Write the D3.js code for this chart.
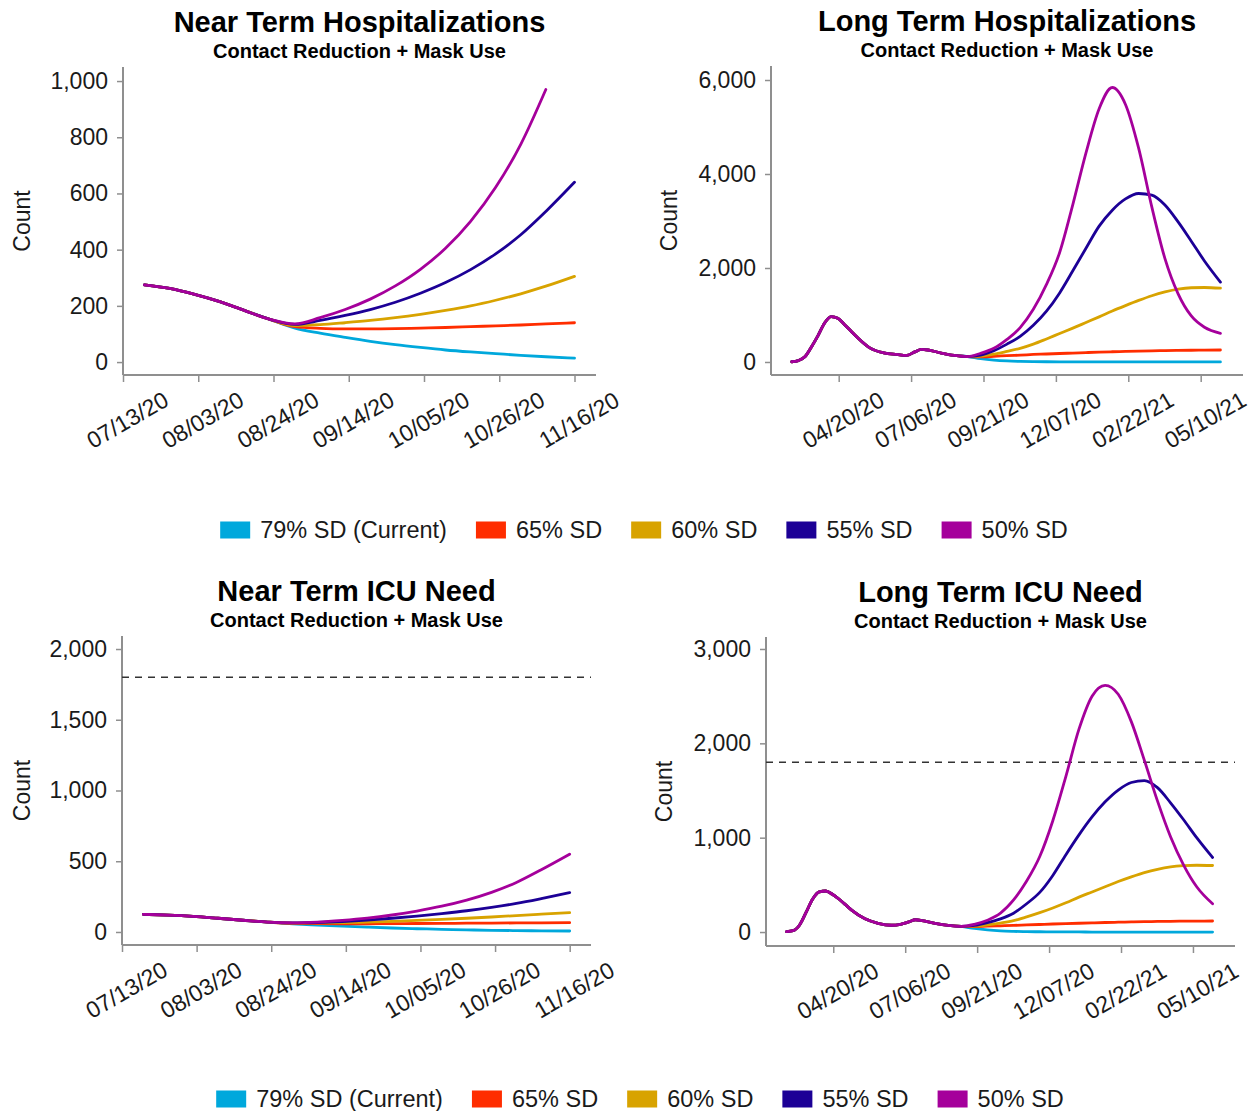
<!DOCTYPE html>
<html>
<head>
<meta charset="utf-8">
<script src="https://cdn.jsdelivr.net/npm/d3@7"></script>
<style>
  body { margin: 0; background: #fff; }
  svg { display: block; }
  text { font-family: "Liberation Sans", Arial, Helvetica, sans-serif; fill: #1a1a1a; }
</style>
</head>
<body>
<svg id="chart" width="1254" height="1111"></svg>
<script>
// ---------- scenario series ----------
const seriesNames  = ["79% SD (Current)", "65% SD", "60% SD", "55% SD", "50% SD"];
const seriesColors = ["#00a8dc", "#ff2d00", "#d8a300", "#1c0096", "#a5009b"];

// ---------- near term (07/2020 – 11/2020) ----------
const nearTickDates = ["2020-07-13", "2020-08-03", "2020-08-24", "2020-09-14", "2020-10-05", "2020-10-26", "2020-11-16"];
const nearHistDates = ["2020-07-19", "2020-07-26", "2020-08-02", "2020-08-09", "2020-08-16", "2020-08-23"];
const nearProjDates = ["2020-08-30", "2020-09-06", "2020-09-13", "2020-09-20", "2020-09-27", "2020-10-04",
                       "2020-10-11", "2020-10-18", "2020-10-25", "2020-11-01", "2020-11-08", "2020-11-16"];

// hospitalizations
const nearHospHist = [275, 262, 241, 215, 183, 152];
const nearHosp79 = [121, 103, 88, 74, 62, 52, 43, 36, 30, 24, 19, 14];
const nearHosp65 = [126, 120, 118, 118, 119, 121, 123, 126, 129, 132, 136, 140];
const nearHosp60 = [130, 133, 140, 148, 158, 170, 184, 200, 220, 243, 270, 305];
const nearHosp55 = [134, 148, 166, 187, 213, 245, 283, 329, 385, 453, 536, 640];
const nearHosp50 = [136, 158, 187, 224, 271, 330, 405, 501, 622, 775, 970, null];

// ICU need
const nearIcuHist = [125, 119, 110, 97, 83, 70];
const nearIcu79 = [58, 49, 41, 34, 28, 23, 19, 15, 12, 10, 8, 7];
const nearIcu65 = [61, 59, 58, 58, 59, 60, 61, 62, 63, 64, 65, 66];
const nearIcu60 = [63, 64, 66, 70, 75, 82, 89, 97, 106, 116, 126, 137];
const nearIcu55 = [64, 67, 74, 84, 97, 112, 130, 150, 174, 202, 236, 278];
const nearIcu50 = [65, 70, 82, 98, 120, 148, 182, 225, 280, 350, 440, 550];

// ---------- long term (03/2020 – 05/2021) ----------
const longTickDates = ["2020-04-20", "2020-07-06", "2020-09-21", "2020-12-07", "2021-02-22", "2021-05-10"];
const longHistDates = ["2020-03-01", "2020-03-08", "2020-03-15", "2020-03-22", "2020-03-29", "2020-04-05",
                       "2020-04-12", "2020-04-19", "2020-04-26", "2020-05-03", "2020-05-10", "2020-05-24",
                       "2020-06-07", "2020-06-21", "2020-07-01", "2020-07-10", "2020-07-17", "2020-07-24",
                       "2020-08-07", "2020-08-21", "2020-09-04"];
const longProjDates = ["2020-09-18", "2020-10-02", "2020-10-16", "2020-10-30", "2020-11-13", "2020-11-27",
                       "2020-12-11", "2020-12-25", "2021-01-08", "2021-01-22", "2021-02-05", "2021-02-19",
                       "2021-03-05", "2021-03-19", "2021-04-02", "2021-04-16", "2021-04-30", "2021-05-14",
                       "2021-05-31"];

// hospitalizations
const longHospHist = [5, 30, 110, 320, 560, 830, 965, 930, 800, 660, 520, 290, 195, 160, 140, 215, 268, 255, 190, 140, 115];
const longHosp79 = [70, 40, 22, 12, 7, 5, 3, 2, 2, 1, 1, 1, 1, 1, 1, 1, 1, 1, 1];
const longHosp65 = [110, 120, 135, 145, 160, 170, 180, 190, 200, 210, 218, 225, 232, 238, 243, 247, 250, 253, 255];
const longHosp60 = [125, 165, 225, 290, 380, 490, 605, 720, 840, 960, 1085, 1200, 1310, 1410, 1490, 1550, 1580, 1585, 1570];
const longHosp55 = [145, 240, 380, 545, 780, 1080, 1470, 1940, 2420, 2890, 3230, 3470, 3585, 3550, 3340, 2980, 2570, 2150, 1700];
const longHosp50 = [185, 290, 480, 730, 1120, 1650, 2330, 3350, 4450, 5390, 5840, 5480, 4550, 3300, 2200, 1450, 980, 740, 610];

// ICU need
const longIcuHist = [5, 15, 75, 210, 350, 425, 435, 400, 350, 290, 230, 140, 92, 72, 82, 108, 130, 122, 92, 70, 60];
const longIcu79 = [38, 22, 12, 7, 4, 3, 2, 1, 1, 0, 0, 0, 0, 0, 0, 0, 0, 0, 0];
const longIcu65 = [58, 62, 66, 70, 75, 80, 85, 89, 93, 97, 101, 104, 107, 110, 112, 114, 115, 116, 117];
const longIcu60 = [62, 75, 95, 120, 160, 205, 255, 310, 370, 425, 480, 535, 585, 630, 665, 690, 703, 708, 705];
const longIcu55 = [70, 100, 140, 200, 300, 420, 600, 820, 1030, 1220, 1380, 1505, 1585, 1605, 1530, 1370, 1190, 1000, 790];
const longIcu50 = [82, 125, 200, 340, 540, 800, 1180, 1650, 2150, 2500, 2615, 2520, 2230, 1820, 1390, 1010, 710, 480, 300];

// y tick values and ICU capacity
const nearHospTicks = [0, 200, 400, 600, 800, 1000];
const longHospTicks = [0, 2000, 4000, 6000];
const nearIcuTicks  = [0, 500, 1000, 1500, 2000];
const longIcuTicks  = [0, 1000, 2000, 3000];
const icuCapacity = 1800;

const subtitle = "Contact Reduction + Mask Use";

// ---------- drawing ----------
const parse = d3.timeParse("%Y-%m-%d");
const fmtDate = d3.timeFormat("%m/%d/%y");
const svg = d3.select("#chart");

const panels = [
  { title: "Near Term Hospitalizations", left: 123, right: 596, top: 67, bottom: 375,
    xDomain: ["2020-07-13", "2020-11-22"], yDomain: [-46, 1050], yTicks: nearHospTicks,
    xTicks: nearTickDates, histDates: nearHistDates, hist: nearHospHist, projDates: nearProjDates,
    proj: [nearHosp79, nearHosp65, nearHosp60, nearHosp55, nearHosp50], capacity: null, labelX: 22 },
  { title: "Long Term Hospitalizations", left: 771, right: 1243, top: 66, bottom: 375,
    xDomain: ["2020-02-08", "2021-06-24"], yDomain: [-277, 6298], yTicks: longHospTicks,
    xTicks: longTickDates, histDates: longHistDates, hist: longHospHist, projDates: longProjDates,
    proj: [longHosp79, longHosp65, longHosp60, longHosp55, longHosp50], capacity: null, labelX: 669 },
  { title: "Near Term ICU Need", left: 122, right: 591, top: 636, bottom: 945,
    xDomain: ["2020-07-13", "2020-11-22"], yDomain: [-92, 2092], yTicks: nearIcuTicks,
    xTicks: nearTickDates, histDates: nearHistDates, hist: nearIcuHist, projDates: nearProjDates,
    proj: [nearIcu79, nearIcu65, nearIcu60, nearIcu55, nearIcu50], capacity: icuCapacity, labelX: 22 },
  { title: "Long Term ICU Need", left: 766, right: 1235, top: 637, bottom: 946,
    xDomain: ["2020-02-08", "2021-06-24"], yDomain: [-148, 3127], yTicks: longIcuTicks,
    xTicks: longTickDates, histDates: longHistDates, hist: longIcuHist, projDates: longProjDates,
    proj: [longIcu79, longIcu65, longIcu60, longIcu55, longIcu50], capacity: icuCapacity, labelX: 664 }
];

panels.forEach(p => {
  const g = svg.append("g");
  const x = d3.scaleTime().domain(p.xDomain.map(parse)).range([p.left, p.right]);
  const y = d3.scaleLinear().domain(p.yDomain).range([p.bottom, p.top]);
  const cx = (p.left + p.right) / 2;

  // titles
  g.append("text").attr("x", cx).attr("y", p.top - 35).attr("text-anchor", "middle")
    .style("font-size", "29px").style("font-weight", "bold").style("fill", "#000").text(p.title);
  g.append("text").attr("x", cx).attr("y", p.top - 9).attr("text-anchor", "middle")
    .style("font-size", "20px").style("font-weight", "bold").style("fill", "#000").text(subtitle);

  // y axis
  const yAxis = g.append("g").attr("transform", `translate(${p.left},0)`)
    .call(d3.axisLeft(y).tickValues(p.yTicks).tickFormat(d3.format(",")).tickSize(6).tickPadding(9));
  yAxis.select(".domain").attr("d", `M0,${p.top}V${p.bottom}`);
  yAxis.selectAll("text").style("font-size", "23px").style("fill", "#1a1a1a");

  // x axis
  const xAxis = g.append("g").attr("transform", `translate(0,${p.bottom})`)
    .call(d3.axisBottom(x).tickValues(p.xTicks.map(parse)).tickFormat(fmtDate).tickSize(7));
  xAxis.select(".domain").attr("d", `M${p.left},0H${p.right}`);
  xAxis.selectAll("text")
    .attr("x", 0).attr("y", 0).attr("dy", null)
    .attr("dominant-baseline", "central")
    .style("text-anchor", "middle").style("font-size", "23px").style("fill", "#1a1a1a")
    .attr("transform", "translate(4,45) rotate(-30)");

  [yAxis, xAxis].forEach(a => {
    a.select(".domain").attr("stroke", "#8f8f8f").attr("stroke-width", 2);
    a.selectAll(".tick line").attr("stroke", "#8f8f8f").attr("stroke-width", 1.5);
  });

  // y axis title
  g.append("text")
    .attr("transform", `translate(${p.labelX},${(p.top + p.bottom) / 2}) rotate(-90)`)
    .attr("text-anchor", "middle").attr("dominant-baseline", "central")
    .style("font-size", "23px").text("Count");

  // capacity line
  if (p.capacity != null) {
    g.append("line")
      .attr("x1", p.left).attr("x2", p.right)
      .attr("y1", y(p.capacity)).attr("y2", y(p.capacity))
      .attr("stroke", "#333").attr("stroke-width", 1.6).attr("stroke-dasharray", "7,6");
  }

  // scenario lines: shared history followed by each projection
  const line = d3.line()
    .defined(d => d.v != null)
    .x(d => x(d.date)).y(d => y(d.v))
    .curve(d3.curveMonotoneX);

  const histPts = p.histDates.map((d, i) => ({ date: parse(d), v: p.hist[i] }));
  p.proj.forEach((vals, si) => {
    const pts = histPts.concat(p.projDates.map((d, i) => ({ date: parse(d), v: vals[i] })));
    g.append("path").datum(pts)
      .attr("d", line).attr("fill", "none")
      .attr("stroke", seriesColors[si]).attr("stroke-width", 2.8)
      .attr("stroke-linejoin", "round").attr("stroke-linecap", "round");
  });
});

// ---------- legends ----------
function legend(cy, centerX) {
  const g = svg.append("g");
  const items = g.selectAll("g").data(seriesNames).join("g");
  items.append("rect").attr("width", 30).attr("height", 17).attr("y", cy - 8.5)
    .attr("fill", (d, i) => seriesColors[i]);
  items.append("text").attr("x", 40).attr("y", cy).attr("dominant-baseline", "central")
    .style("font-size", "23.5px").text(d => d);
  let pos = 0;
  const gap = 29;
  items.each(function () {
    const w = 40 + d3.select(this).select("text").node().getComputedTextLength();
    d3.select(this).attr("data-x", pos);
    pos += w + gap;
  });
  const total = pos - gap;
  const start = centerX - total / 2;
  items.attr("transform", function () { return `translate(${start + (+this.getAttribute("data-x"))},0)`; });
}
legend(530, 644);
legend(1099, 640);
</script>
</body>
</html>
